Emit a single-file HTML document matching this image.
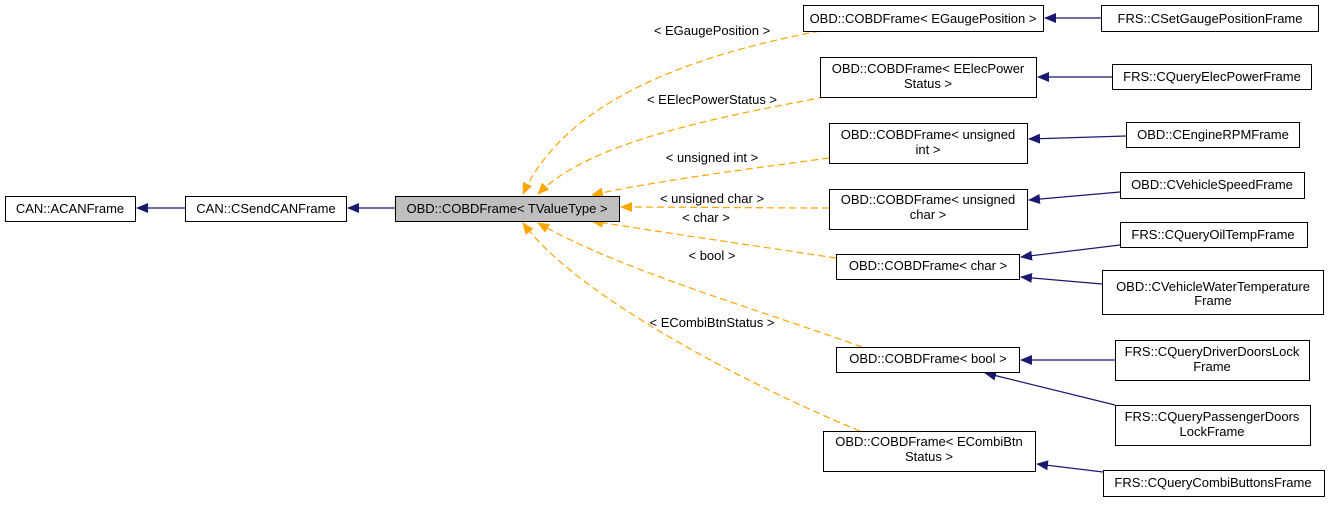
<!DOCTYPE html>
<html><head><meta charset="utf-8"><style>
html,body{margin:0;padding:0;background:#fff;}
text{font-family:"Liberation Sans",Arial,sans-serif;font-size:13px;fill:#000;}
</style></head><body>
<svg width="1328" height="503" viewBox="0 0 1328 503" xmlns="http://www.w3.org/2000/svg">
<defs>
<marker id="n" markerWidth="12" markerHeight="10" refX="11" refY="5" orient="auto" markerUnits="userSpaceOnUse"><path d="M0,0 L12,5 L0,10 z" fill="#191970"/></marker>
<marker id="o" markerWidth="12" markerHeight="10" refX="11" refY="5" orient="auto" markerUnits="userSpaceOnUse"><path d="M0,0 L12,5 L0,10 z" fill="#ffa500"/></marker>
</defs>
<g fill="none" stroke="#191970" stroke-width="1.2">
<line x1="185" y1="208" x2="137" y2="208" marker-end="url(#n)"/>
<line x1="395" y1="208" x2="348" y2="208" marker-end="url(#n)"/>
<line x1="1101" y1="18" x2="1045" y2="18" marker-end="url(#n)"/>
<line x1="1112" y1="77" x2="1038" y2="77" marker-end="url(#n)"/>
<line x1="1126" y1="136" x2="1029" y2="139" marker-end="url(#n)"/>
<line x1="1120" y1="192" x2="1029" y2="200" marker-end="url(#n)"/>
<line x1="1120" y1="245" x2="1021" y2="257" marker-end="url(#n)"/>
<line x1="1102" y1="284" x2="1021" y2="277" marker-end="url(#n)"/>
<line x1="1115" y1="360" x2="1021" y2="360" marker-end="url(#n)"/>
<line x1="1115" y1="405" x2="985" y2="373" marker-end="url(#n)"/>
<line x1="1103" y1="472" x2="1037" y2="464" marker-end="url(#n)"/>
</g>
<g fill="none" stroke="#ffa500" stroke-width="1.2" stroke-dasharray="7,4">
<path d="M820,31 C720,50 570,90 523,194" marker-end="url(#o)"/>
<path d="M825,97 C730,115 590,140 538,194" marker-end="url(#o)"/>
<path d="M829,158 C740,170 650,182 592,195" marker-end="url(#o)"/>
<path d="M829,208 C760,208 680,207 621,207" marker-end="url(#o)"/>
<path d="M836,258 C750,245 660,232 592,221" marker-end="url(#o)"/>
<path d="M862,347 C760,310 620,270 538,223" marker-end="url(#o)"/>
<path d="M860,431 C760,390 580,300 523,223" marker-end="url(#o)"/>
</g>
<g fill="#fff" stroke="#000" stroke-width="1">
<rect x="5.5" y="196.5" width="130" height="25"/>
<rect x="185.5" y="196.5" width="161" height="25"/>
<rect x="395.5" y="196.5" width="224" height="25" fill="#bfbfbf"/>
<rect x="803.5" y="5.5" width="240" height="26"/>
<rect x="1101.5" y="5.5" width="217" height="26"/>
<rect x="820.5" y="57.5" width="216" height="40"/>
<rect x="1112.5" y="64.5" width="199" height="25"/>
<rect x="829.5" y="123.5" width="198" height="40"/>
<rect x="1126.5" y="122.5" width="173" height="25"/>
<rect x="829.5" y="189.5" width="198" height="40"/>
<rect x="1120.5" y="172.5" width="184" height="26"/>
<rect x="836.5" y="254.5" width="183" height="25"/>
<rect x="1120.5" y="222.5" width="187" height="25"/>
<rect x="1102.5" y="270.5" width="221" height="44"/>
<rect x="836.5" y="347.5" width="183" height="25"/>
<rect x="1115.5" y="340.5" width="194" height="40"/>
<rect x="1115.5" y="405.5" width="195" height="40"/>
<rect x="823.5" y="431.5" width="212" height="40"/>
<rect x="1103.5" y="470.5" width="221" height="26"/>
</g>
<g text-anchor="middle">
<text x="70" y="213">CAN::ACANFrame</text>
<text x="266" y="213">CAN::CSendCANFrame</text>
<text x="507" y="213">OBD::COBDFrame&lt; TValueType &gt;</text>
<text x="923" y="23">OBD::COBDFrame&lt; EGaugePosition &gt;</text>
<text x="1210" y="23">FRS::CSetGaugePositionFrame</text>
<text x="928" y="73">OBD::COBDFrame&lt; EElecPower</text>
<text x="928" y="88">Status &gt;</text>
<text x="1212" y="81">FRS::CQueryElecPowerFrame</text>
<text x="928" y="139">OBD::COBDFrame&lt; unsigned</text>
<text x="928" y="154">int &gt;</text>
<text x="1213" y="139">OBD::CEngineRPMFrame</text>
<text x="928" y="204">OBD::COBDFrame&lt; unsigned</text>
<text x="928" y="219">char &gt;</text>
<text x="1212" y="189">OBD::CVehicleSpeedFrame</text>
<text x="928" y="270">OBD::COBDFrame&lt; char &gt;</text>
<text x="1213" y="239">FRS::CQueryOilTempFrame</text>
<text x="1213" y="291">OBD::CVehicleWaterTemperature</text>
<text x="1213" y="305">Frame</text>
<text x="928" y="363">OBD::COBDFrame&lt; bool &gt;</text>
<text x="1212" y="356">FRS::CQueryDriverDoorsLock</text>
<text x="1212" y="371">Frame</text>
<text x="1212" y="421">FRS::CQueryPassengerDoors</text>
<text x="1212" y="436">LockFrame</text>
<text x="929" y="446">OBD::COBDFrame&lt; ECombiBtn</text>
<text x="929" y="461">Status &gt;</text>
<text x="1213" y="487">FRS::CQueryCombiButtonsFrame</text>
<text x="712" y="35">&lt; EGaugePosition &gt;</text>
<text x="712" y="104">&lt; EElecPowerStatus &gt;</text>
<text x="712" y="162">&lt; unsigned int &gt;</text>
<text x="712" y="203">&lt; unsigned char &gt;</text>
<text x="706" y="222">&lt; char &gt;</text>
<text x="712" y="260">&lt; bool &gt;</text>
<text x="712" y="327">&lt; ECombiBtnStatus &gt;</text>
</g>
</svg>
</body></html>
